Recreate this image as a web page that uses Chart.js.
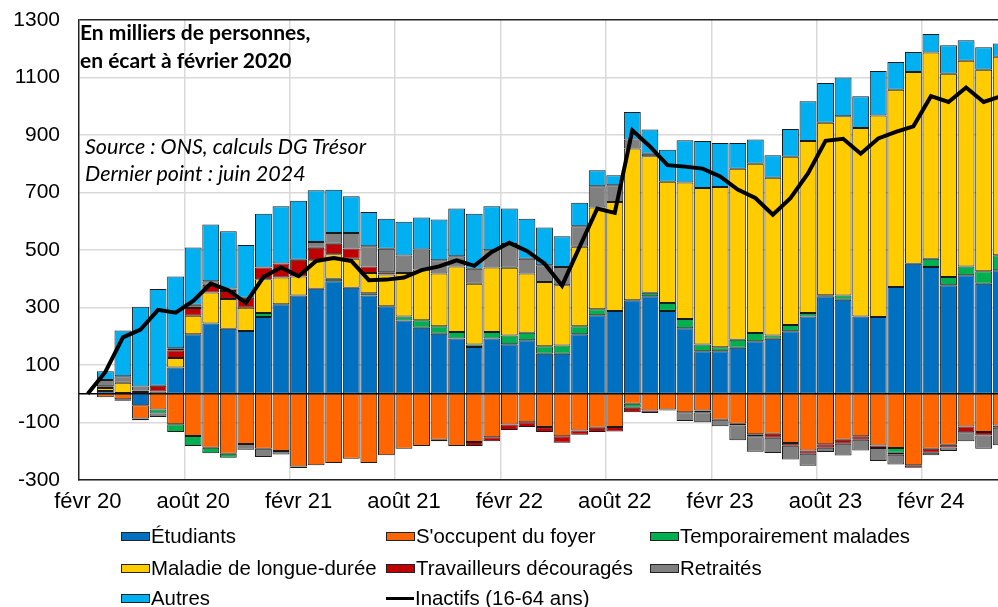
<!DOCTYPE html>
<html lang="fr">
<head>
<meta charset="utf-8">
<script src="https://cdn.jsdelivr.net/npm/chart.js@4.4.1/dist/chart.umd.min.js"></script>
<style>
html,body{margin:0;padding:0;background:#fff;overflow:hidden}
#wrap{position:relative;width:1035px;height:607px}
#chart{position:absolute;left:0;top:0}
.note{position:absolute;color:#000;white-space:nowrap}
#title{left:80px;top:18px;font:700 21px/28px Lato,sans-serif}
#source{left:85px;top:133px;font:italic 21.5px/27px Lato,sans-serif}
.lg{position:absolute;display:flex;align-items:center;height:22px;font:20.4px/22px 'Liberation Sans',Arial,sans-serif;white-space:nowrap;color:#000}
.sw{width:27px;height:7px;border:1px solid #222;margin-right:1px}
.ln{width:28px;height:3px;background:#000;margin-right:1px}
</style>
</head>
<body>
<div id="wrap">
  <canvas id="chart" width="1035" height="607"></canvas>
  <div id="title" class="note">En milliers de personnes,<br>en écart à février 2020</div>
  <div id="source" class="note">Source : ONS, calculs DG Trésor<br>Dernier point : juin 2024</div>
  <div id="legend"></div>
</div>
<script>
// mois, de février 2020 à juin 2024
const months = ['févr 20','mars 20','avr 20','mai 20','juin 20','juil 20','août 20','sept 20','oct 20','nov 20','déc 20',
  'janv 21','févr 21','mars 21','avr 21','mai 21','juin 21','juil 21','août 21','sept 21','oct 21','nov 21','déc 21',
  'janv 22','févr 22','mars 22','avr 22','mai 22','juin 22','juil 22','août 22','sept 22','oct 22','nov 22','déc 22',
  'janv 23','févr 23','mars 23','avr 23','mai 23','juin 23','juil 23','août 23','sept 23','oct 23','nov 23','déc 23',
  'janv 24','févr 24','mars 24','avr 24','mai 24','juin 24'];

// milliers de personnes, écart à février 2020
const etudiants = [0,10,3,-40,0,91,207,244,226,218, 267,311,342,365,391,369,342,304,255,230, 209,192,163,192,172,186,139,139,207,273, 288,325,339,288,228,148,148,160,183,191, 217,269,339,327,269,267,371,452,441,377, 412,383,430];
const foyer = [0,-12,-19,-46,-55,-106,-147,-188,-209,-175, -191,-199,-253,-249,-241,-226,-241,-214,-191,-182, -160,-182,-168,-151,-107,-99,-116,-148,-128,-118, -116,-35,-58,-55,-64,-58,-90,-104,-141,-139, -171,-197,-176,-160,-148,-180,-189,-249,-191,-177, -114,-133,-110];
const tempMalades = [0,0,-5,-6,-14,-27,-35,-19,-14,0, 14,0,0,0,9,0,8,0,14,26, 26,23,8,23,31,26,26,29,28,21, 0,-14,12,28,32,23,14,28,28,12, 22,12,4,15,0,0,-16,0,29,29, 31,43,52];
const maladieLD = [0,10,35,6,8,33,64,108,104,81, 117,93,66,99,85,101,70,111,151,176, 183,228,212,224,235,206,224,209,276,354, 379,528,475,421,475,545,557,595,589,548, 585,598,600,623,655,701,686,667,717,707, 715,701,690];
const decourages = [0,6,0,5,20,27,27,27,27,35, 41,49,58,44,37,35,23,8,0,0, -5,0,-14,-14,-19,-17,-17,-22,-15,-15, -15,-15,-9,-3,0,-6,0,-6,-7,-14, -10,-12,-12,-14,-12,-9,-7,-8,-14,-10, -20,-12,-8];
const retraites = [0,22,23,14,-12,7,12,12,9,-20, -29,-12,-5,20,37,54,70,81,61,70, 46,35,52,60,83,52,58,64,72,74, 58,31,9,0,-31,-35,-23,-52,-54,-53, -48,-41,-15,-41,-37,-45,-34,0,-9,-12, -31,-46,-61];
const autres = [0,30,159,278,336,250,199,198,199,183, 187,199,205,180,151,128,119,105,117,111, 142,166,191,153,123,139,131,107,81,55, 35,96,84,112,147,163,153,89,84,79, 97,138,138,135,111,155,97,70,64,99, 72,78,46];
const inactifs = [0,76,196,223,292,282,323,383,360,316, 406,439,409,462,472,462,395,397,404,430, 443,464,445,493,525,497,453,376,511,644, 629,916,860,795,790,783,756,710,681,623, 680,766,880,887,835,888,911,930,1035,1015, 1065,1015,1035];

const yTicks = [-300,-100,100,300,500,700,900,1100,1300];

const series = [
  { label: 'Étudiants', data: etudiants, color: '#0070C0' },
  { label: "S'occupent du foyer", data: foyer, color: '#FF6600' },
  { label: 'Temporairement malades', data: tempMalades, color: '#00B050' },
  { label: 'Maladie de longue-durée', data: maladieLD, color: '#FFCC00' },
  { label: 'Travailleurs découragés', data: decourages, color: '#C00000' },
  { label: 'Retraités', data: retraites, color: '#808080' },
  { label: 'Autres', data: autres, color: '#00B0F0' },
];

const axisFont = "'Liberation Sans', Arial, sans-serif";

// trait horizontal à zéro
const zeroLine = {
  id: 'zeroLine',
  beforeDatasetsDraw(chart){
    const { ctx, chartArea: a, scales: { y } } = chart;
    const py = y.getPixelForValue(0);
    ctx.save();
    ctx.strokeStyle = '#000';
    ctx.lineWidth = 1.5;
    ctx.beginPath(); ctx.moveTo(a.left, py); ctx.lineTo(a.right, py); ctx.stroke();
    ctx.restore();
  }
};

new Chart(document.getElementById('chart'), {
  data: {
    labels: months,
    datasets: [
      { type: 'line', label: 'Inactifs (16-64 ans)', data: inactifs, borderColor: '#000', borderWidth: 4, pointRadius: 0, tension: 0, order: -1, stack: 'total' },
      ...series.map(s => ({ type: 'bar', label: s.label, data: s.data, backgroundColor: s.color, borderColor: '#1a1a1a', borderWidth: 1, borderSkipped: false, barPercentage: 0.96, categoryPercentage: 1 }))
    ]
  },
  options: {
    responsive: false, animation: false, devicePixelRatio: 1,
    layout: { padding: { top: 20, right: 25, bottom: 87, left: 0 } },
    plugins: { legend: { display: false }, tooltip: { enabled: false } },
    scales: {
      x: {
        stacked: true, offset: true,
        grid: { offset: true, drawTicks: false, lineWidth: 1.5, color: c => (c.index % 6 === 0 && c.index > 0) ? '#d9d9d9' : 'rgba(0,0,0,0)' },
        border: { color: '#222', width: 1.5 },
        ticks: { autoSkip: false, maxRotation: 0, padding: 9, color: '#000', font: { family: axisFont, size: 22 },
          callback(v, i){ return i % 6 === 0 ? this.getLabelForValue(v) : ''; } },
        afterFit(s){ s.height = 40; }
      },
      y: {
        stacked: true, min: -300, max: 1300,
        afterBuildTicks(s){ s.ticks = yTicks.map(v => ({ value: v })); },
        grid: { drawTicks: false, lineWidth: 1.5, color: c => (c.tick && c.tick.value === 1300) ? '#222' : '#d9d9d9' },
        border: { color: '#222', width: 1.5 },
        ticks: { padding: 19, color: '#000', font: { family: axisFont, size: 21 }, callback: v => String(v) },
        afterFit(s){ s.width = 79; s.paddingTop = 0; s.paddingBottom = 0; }
      }
    }
  },
  plugins: [zeroLine]
});

// légende sur trois colonnes
const legendItems = series.map(s => ({ label: s.label, color: s.color })).concat([{ label: 'Inactifs (16-64 ans)', line: true }]);
const colX = [121, 386, 650], rowY = [525, 557, 587];
const legend = document.getElementById('legend');
legendItems.forEach((it, k) => {
  const d = document.createElement('div');
  d.className = 'lg';
  d.style.left = colX[k % 3] + 'px';
  d.style.top = rowY[Math.floor(k / 3)] + 'px';
  const sw = document.createElement('span');
  sw.className = it.line ? 'ln' : 'sw';
  if (!it.line) sw.style.background = it.color;
  d.appendChild(sw);
  d.appendChild(document.createTextNode(it.label));
  legend.appendChild(d);
});
</script>
</body>
</html>
